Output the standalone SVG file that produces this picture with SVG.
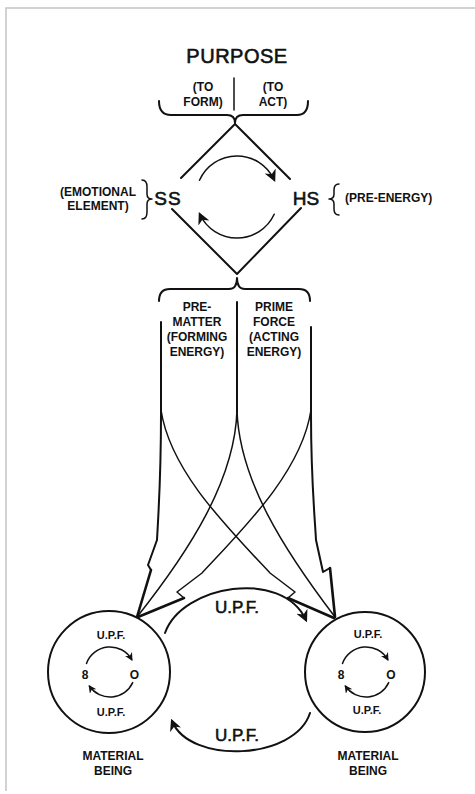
<svg xmlns="http://www.w3.org/2000/svg" width="475" height="794" viewBox="0 0 475 794">
<defs>
<marker id="ah" viewBox="0 0 10 10" refX="8" refY="5" markerWidth="12" markerHeight="12" markerUnits="userSpaceOnUse" orient="auto"><path d="M0,0 L10,5 L0,10 L3,5 z" fill="#111"/></marker>
<marker id="ahs" viewBox="0 0 10 10" refX="8" refY="5" markerWidth="8" markerHeight="8" markerUnits="userSpaceOnUse" orient="auto"><path d="M0,0 L10,5 L0,10 L3,5 z" fill="#111"/></marker>
</defs>
<style>
.ln{fill:none;stroke:#111;stroke-width:2;stroke-linejoin:round;stroke-linecap:round}
.th{stroke-width:1.5}
.tk{stroke-width:2.6}
.lb{font-family:"Liberation Sans",Arial,sans-serif;font-weight:bold;font-size:12px;fill:#111;text-anchor:middle}
.sm{font-size:11px}
.big{font-family:"Liberation Sans",Arial,sans-serif;fill:#111;stroke:#111;stroke-width:0.6;text-anchor:middle}
</style>
<rect width="475" height="794" fill="#fff"/>
<path d="M6,791 L6,8 L480,8" fill="none" stroke="#c4c4c4" stroke-width="1.5"/>

<g id="purpose">
<text class="big" x="237" y="63" font-size="20" letter-spacing="0.5">PURPOSE</text>
<line class="ln th" x1="234" y1="78" x2="234" y2="110"/>
<text class="lb" x="203" y="91">(TO</text>
<text class="lb" x="203" y="106">FORM)</text>
<text class="lb" x="273" y="91">(TO</text>
<text class="lb" x="273" y="106">ACT)</text>
<path class="ln" d="M159,101 Q159,115 171,115 L227,115 Q235,115 235,123 Q235,115 243,115 L297,115 Q308,115 308,101"/>
</g>

<g id="diamond">
<path class="ln" d="M181,178 L235,124 L290,179"/>
<path class="ln" d="M172,209 L237,274 L301,208"/>
<path class="ln th" d="M199.5,180.3 A41,41 0 0 1 274.2,179.7" marker-end="url(#ah)"/>
<path class="ln th" d="M274.2,214.3 A41,41 0 0 1 199.8,214.3" marker-end="url(#ah)"/>
</g>

<g id="ss">
<text class="big" x="168" y="205" font-size="19" letter-spacing="1">SS</text>
<path class="ln th" d="M142,180 Q147,180 147,187 L147,194 Q147,199 152,199 Q147,199 147,204 L147,212 Q147,219 142,219"/>
<text class="lb" x="98" y="196">(EMOTIONAL</text>
<text class="lb" x="98" y="210">ELEMENT)</text>
</g>

<g id="hs">
<text class="big" x="306" y="205" font-size="19">HS</text>
<path class="ln th" d="M339,184 Q334,184 334,190 L334,194 Q334,199 329,199 Q334,199 334,204 L334,209 Q334,215 339,215"/>
<text class="lb" x="345" y="202" style="text-anchor:start">(PRE-ENERGY)</text>
</g>

<g id="energies">
<path class="ln" d="M159,301 Q159,289 170,289 L229,289 Q237,289 237,278 Q237,289 245,289 L299,289 Q310,289 310,301"/>
<text class="lb" x="197" y="311">PRE-</text>
<text class="lb" x="197" y="326">MATTER</text>
<text class="lb" x="197" y="341">(FORMING</text>
<text class="lb" x="197" y="356">ENERGY)</text>
<text class="lb" x="274" y="311">PRIME</text>
<text class="lb" x="274" y="326">FORCE</text>
<text class="lb" x="274" y="341">(ACTING</text>
<text class="lb" x="274" y="356">ENERGY)</text>
</g>

<g id="connectors">
<path class="ln" d="M237,302 L237,412"/>
<path class="ln" d="M161,322 L161,415 C161,480 158,520 157,540 L148,565 L151,570"/>
<path class="ln tk" d="M151,570 L137,617"/>
<path class="ln" d="M311,327 L311,415 C311,480 315,520 316,540 L323,572 L330,568"/>
<path class="ln tk" d="M330,568 L335,617"/>
<path class="ln th" d="M237,410 C235,480 190,550 137,617"/>
<path class="ln th" d="M237,410 C239,480 284,550 335,617"/>
<path class="ln th" d="M161,410 C170,470 225,525 270,573 L295,592 L288,598"/>
<path class="ln tk" d="M288,598 L334,618"/>
<path class="ln th" d="M311,410 C302,470 247,525 202,573 L177,592 L184,598"/>
<path class="ln tk" d="M184,598 L138,617"/>
<path class="ln" d="M165,633 C182,585 282,568 306,620" marker-end="url(#ah)"/>
<text class="big" x="237" y="613" font-size="17">U.P.F.</text>
<path class="ln" d="M310,713 C295,760 190,765 172,721" marker-end="url(#ah)"/>
<text class="big" x="237" y="741" font-size="17">U.P.F.</text>
</g>

<g id="being-left">
<circle class="ln" cx="109" cy="672" r="61" stroke-width="2.2"/>
<text class="lb sm" x="111" y="639">U.P.F.</text>
<path class="ln th" d="M86.5,663.4 A25,25 0 0 1 131.7,659.5" marker-end="url(#ahs)"/>
<path class="ln th" d="M132.7,682.6 A25,25 0 0 1 89.5,686.3" marker-end="url(#ahs)"/>
<text class="lb" x="85" y="679">8</text>
<text class="lb" x="134.5" y="679">O</text>
<text class="lb sm" x="111" y="716">U.P.F.</text>
<text class="lb" x="113" y="760">MATERIAL</text>
<text class="lb" x="113" y="775">BEING</text>
</g>

<g id="being-right">
<circle class="ln" cx="365" cy="672" r="60" stroke-width="2.2"/>
<text class="lb sm" x="368" y="638">U.P.F.</text>
<path class="ln th" d="M342.5,663.4 A25,25 0 0 1 387.7,659.5" marker-end="url(#ahs)"/>
<path class="ln th" d="M388.7,682.6 A25,25 0 0 1 345.5,686.3" marker-end="url(#ahs)"/>
<text class="lb" x="341" y="679">8</text>
<text class="lb" x="391" y="679">O</text>
<text class="lb sm" x="367" y="714">U.P.F.</text>
<text class="lb" x="368" y="760">MATERIAL</text>
<text class="lb" x="368" y="775">BEING</text>
</g>
</svg>
